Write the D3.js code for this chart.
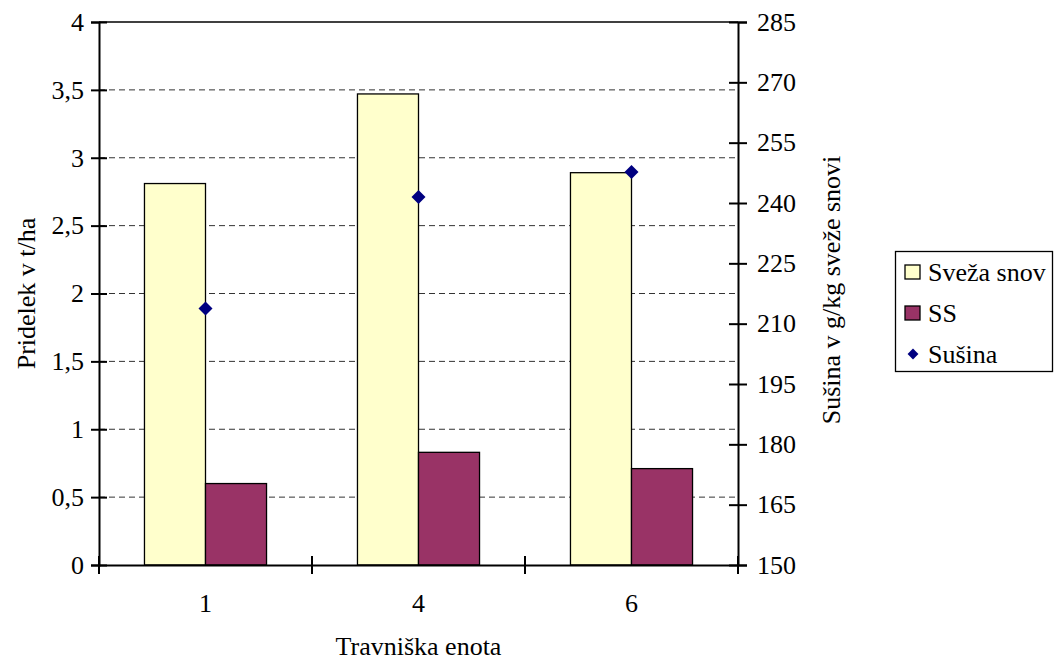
<!DOCTYPE html>
<html>
<head>
<meta charset="utf-8">
<script src="https://cdn.jsdelivr.net/npm/d3@7"></script>
<style>
  body { margin: 0; background: #fff; }
  svg.chart text {
    font-family: "Liberation Serif", "Times New Roman", Times, serif;
    fill: #000;
  }
</style>
</head>
<body>
<svg class="chart" width="1056" height="663"></svg>
<script>
// ---- data ----
const categories = ["1", "4", "6"];
const seriesNames = ["Sveža snov", "SS"];
const svezaSnov = [2.81, 3.47, 2.89];     // t/ha
const ss = [0.60, 0.83, 0.71];            // t/ha
const susina = [213.8, 241.5, 247.7];     // g/kg, right axis
const leftTicks = [0, 0.5, 1, 1.5, 2, 2.5, 3, 3.5, 4];
const rightTicks = [150, 165, 180, 195, 210, 225, 240, 255, 270, 285];
const colors = { "Sveža snov": "#ffffcc", "SS": "#993366", "Sušina": "#000080" };

// ---- layout ----
const svg = d3.select("svg.chart");
const L = 99, R = 738, T = 22, B = 565;
const FS = 26;
const FONT = '"Liberation Serif", "Times New Roman", Times, serif';
const fmt = d => String(d).replace(".", ",");

const x0 = d3.scaleBand().domain(categories).range([L, R]);
const x1 = d3.scaleBand().domain(seriesNames)
    .range([0, x0.bandwidth()])
    .paddingOuter(0.745);
const yL = d3.scaleLinear().domain([0, 4]).range([B, T]);
const yR = d3.scaleLinear().domain([150, 285]).range([B, T]);

// gridlines (dashed)
svg.append("g")
    .selectAll("line")
    .data(leftTicks.filter(d => d > 0 && d < 4))
    .join("line")
    .attr("x1", L).attr("x2", R)
    .attr("y1", d => yL(d)).attr("y2", d => yL(d))
    .attr("stroke", "#333")
    .attr("stroke-width", 1)
    .attr("stroke-dasharray", "6,4");

// top border
svg.append("line")
    .attr("x1", L).attr("x2", R).attr("y1", T).attr("y2", T)
    .attr("stroke", "#000").attr("stroke-width", 1.6);

// bars
const rows = categories.map((c, i) => ({ cat: c, vals: [svezaSnov[i], ss[i]] }));
svg.append("g")
    .selectAll("g")
    .data(rows)
    .join("g")
    .attr("transform", d => `translate(${x0(d.cat)},0)`)
    .selectAll("rect")
    .data(d => d.vals.map((v, j) => ({ name: seriesNames[j], v })))
    .join("rect")
    .attr("x", d => x1(d.name))
    .attr("width", x1.bandwidth())
    .attr("y", d => yL(d.v))
    .attr("height", d => B - yL(d.v))
    .attr("fill", d => colors[d.name])
    .attr("stroke", "#000")
    .attr("stroke-width", 1.3);

// axes: ticks cross the axis line
function styleAxis(g) {
    g.attr("font-family", FONT).attr("font-size", FS);
    g.select(".domain").attr("stroke", "#000").attr("stroke-width", 2);
    g.selectAll(".tick line").attr("stroke", "#000").attr("stroke-width", 2);
}

const leftAx = svg.append("g")
    .attr("transform", `translate(${L},0)`)
    .call(d3.axisLeft(yL).tickValues(leftTicks).tickFormat(fmt).tickSizeOuter(0).tickSize(8).tickPadding(7))
    .call(styleAxis);
leftAx.selectAll(".tick line").attr("x2", 8).attr("x1", -8);

const rightAx = svg.append("g")
    .attr("transform", `translate(${R},0)`)
    .call(d3.axisRight(yR).tickValues(rightTicks).tickSizeOuter(0).tickSize(9).tickPadding(10))
    .call(styleAxis);
rightAx.selectAll(".tick line").attr("x1", -9).attr("x2", 9);

const bottomAx = svg.append("g")
    .attr("transform", `translate(0,${B})`)
    .call(d3.axisBottom(x0).tickSize(0).tickSizeOuter(0).tickPadding(29))
    .call(styleAxis);
// category boundary ticks
const bounds = categories.map(c => x0(c)).concat([R]);
bottomAx.selectAll("line.bound")
    .data(bounds)
    .join("line")
    .attr("class", "bound")
    .attr("x1", d => d).attr("x2", d => d)
    .attr("y1", -9).attr("y2", 9)
    .attr("stroke", "#000").attr("stroke-width", 2);

// Sušina markers (diamonds)
const diamond = d3.symbol().type(d3.symbolDiamond2).size(125);
svg.append("g")
    .selectAll("path")
    .data(categories.map((c, i) => ({ c, v: susina[i] })))
    .join("path")
    .attr("d", diamond)
    .attr("transform", d => `translate(${x0(d.c) + x0.bandwidth() / 2},${yR(d.v)})`)
    .attr("fill", colors["Sušina"]);

// axis titles
svg.append("text")
    .attr("transform", `translate(35,${(T + B) / 2}) rotate(-90)`)
    .attr("text-anchor", "middle")
    .attr("font-size", FS)
    .text("Pridelek v t/ha");

svg.append("text")
    .attr("transform", `translate(840,290) rotate(-90)`)
    .attr("text-anchor", "middle")
    .attr("font-size", FS)
    .text("Sušina v g/kg sveže snovi");

svg.append("text")
    .attr("x", (L + R) / 2).attr("y", 655)
    .attr("text-anchor", "middle")
    .attr("font-size", FS)
    .text("Travniška enota");

// legend
const legendItems = ["Sveža snov", "SS", "Sušina"];
const lg = svg.append("g");
lg.append("rect")
    .attr("x", 895.5).attr("y", 251.5).attr("width", 157).attr("height", 120)
    .attr("fill", "#fff").attr("stroke", "#000").attr("stroke-width", 1.3);
const li = lg.selectAll("g.item")
    .data(legendItems)
    .join("g")
    .attr("class", "item")
    .attr("transform", (d, i) => `translate(905,${272 + i * 41})`);
li.filter(d => d !== "Sušina")
    .append("rect")
    .attr("x", 0).attr("y", -7).attr("width", 15).attr("height", 14)
    .attr("fill", d => colors[d]).attr("stroke", "#000").attr("stroke-width", 1.3);
li.filter(d => d === "Sušina")
    .append("path")
    .attr("d", d3.symbol().type(d3.symbolDiamond2).size(75))
    .attr("transform", "translate(8,0)")
    .attr("fill", colors["Sušina"]);
li.append("text")
    .attr("x", 23).attr("y", 9)
    .attr("font-size", FS)
    .text(d => d);
</script>
</body>
</html>
